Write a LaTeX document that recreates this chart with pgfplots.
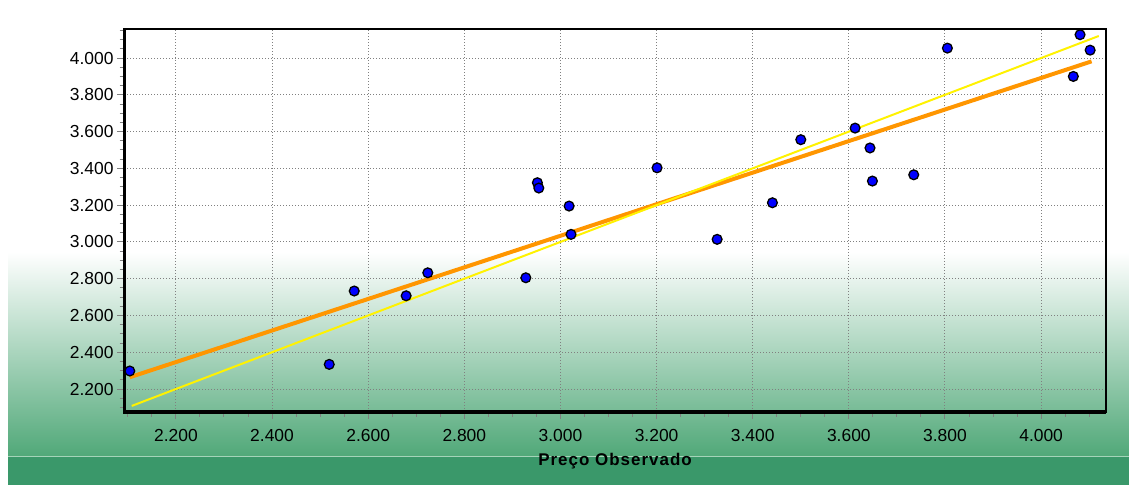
\documentclass[border=0pt]{standalone}
\usepackage{fontspec}
\setmainfont{Liberation Sans}
\usepackage{pgfplots}
\pgfplotsset{compat=1.18}
\definecolor{gradgreen}{RGB}{80,168,120}
\definecolor{bandgreen}{RGB}{58,152,106}
\definecolor{bandline}{RGB}{165,212,185}
\definecolor{regorange}{RGB}{255,150,0}
\definecolor{tickgray}{RGB}{128,128,128}
\begin{document}
\begin{tikzpicture}
\useasboundingbox (0,0) rectangle (1129bp,485bp);
\fill[white] (0,0) rectangle (1129bp,485bp);
\shade[top color=white, bottom color=gradgreen] (8bp,28bp) rectangle (1129bp,233bp);
\fill[bandgreen] (8bp,0bp) rectangle (1129bp,28bp);
\draw[bandline, line width=1bp] (8bp,28bp) -- (1129bp,28bp);
\begin{axis}[
  at={(124bp,73bp)}, anchor=south west,
  width=982bp, height=383bp, scale only axis,
  xmin=2092, xmax=4135, ymin=2075, ymax=4158,
  xtick={2200,2400,...,4000}, ytick={2200,2400,...,4000},
  minor xtick={2100,2150,...,4100}, minor ytick={2100,2150,...,4150},
  tick pos=left, tick align=outside,
  major tick length=7bp, minor tick length=4.5bp,
  every tick/.style={tickgray, line width=1bp},
  grid=major,
  major grid style={tickgray, dash pattern=on 1bp off 2bp, line width=1bp},
  axis line style={black, line width=1.6bp},
  clip mode=individual,
  /pgf/number format/assume math mode=true,
  /pgf/number format/1000 sep={.},
  ticklabel style={font=\fontsize{17.5}{20}\selectfont},
  xticklabel style={yshift=-7bp},
  xlabel={Preço Observado},
  xlabel style={at={(axis description cs:0.5,0)}, anchor=base, yshift=-53bp,
    font=\fontsize{17}{20}\selectfont\bfseries\addfontfeature{LetterSpace=6}},
]
\addplot[regorange, line width=4bp] coordinates {(2104,2264) (4105,3982)};
\addplot[yellow, line width=2bp] coordinates {(2108,2108) (4120,4120)};
\addplot[only marks, mark=*, mark size=4.9bp,
  mark options={fill=blue, draw=black, line width=1.3bp}] coordinates {
(2104,2298) (2519,2334) (2571,2733) (2679,2707) (2724,2832)
(2928,2805) (2952,3322) (2955,3293) (3018,3195) (3022,3041)
(3201,3403) (3326,3014) (3441,3213) (3500,3556) (3613,3619)
(3644,3511) (3649,3331) (3735,3365) (3805,4054) (4081,4127)
(4102,4043) (4067,3900)
};
\draw[black, line width=3bp] (rel axis cs:0,1) -- (rel axis cs:0,0) -- (rel axis cs:1,0);
\end{axis}
\end{tikzpicture}
\end{document}
